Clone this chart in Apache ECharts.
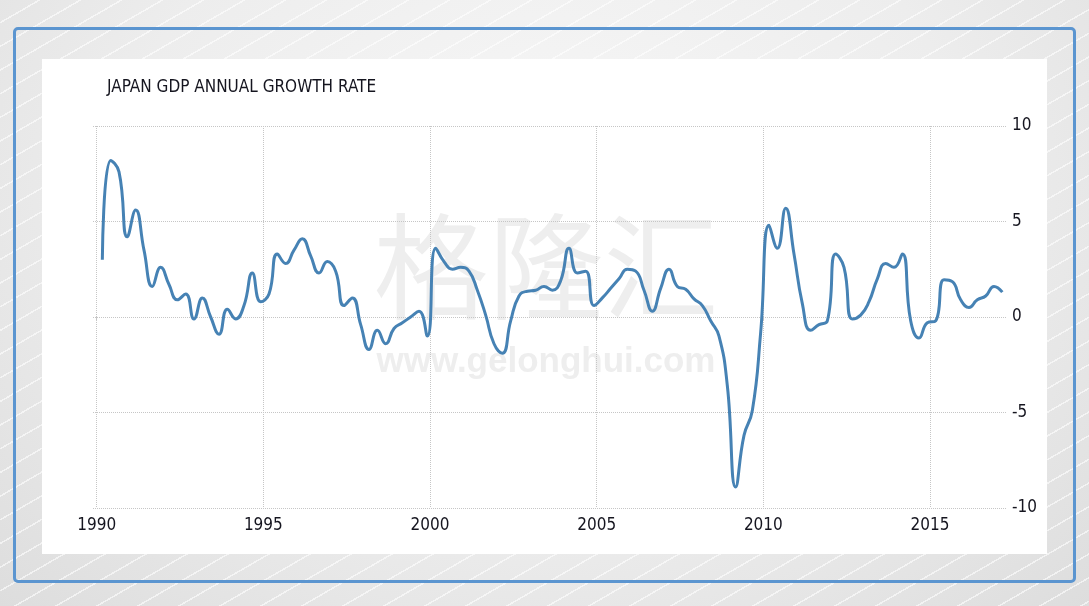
<!DOCTYPE html>
<html><head><meta charset="utf-8">
<script src="https://cdn.jsdelivr.net/npm/echarts@6/dist/echarts.min.js"></script>
<style>
html,body{margin:0;padding:0;width:1089px;height:606px;overflow:hidden;}
body{background:
 repeating-linear-gradient(150deg, rgba(255,255,255,0) 0px, rgba(255,255,255,0) 19px, rgba(255,255,255,0.6) 19px, rgba(255,255,255,0.6) 20.5px),
 radial-gradient(ellipse at 50% 30%, #f7f7f7 0%, #ededed 55%, #dddddd 100%);}
#frame{position:absolute;left:13px;top:27px;width:1057px;height:550px;border:3px solid #5b95d0;border-radius:5px;}
#panel{position:absolute;left:42px;top:59px;width:1005px;height:495px;background:#fff;}
#chart{position:absolute;left:0;top:0;width:1089px;height:606px;}
</style>
</head><body>
<div id="frame"></div>
<div id="panel"></div>
<div id="chart"></div>
<script>
const titleText = 'JAPAN GDP ANNUAL GROWTH RATE';
const startYear = 1990;          // first quarter: 1990 Q1
const yearTicks = [1990, 1995, 2000, 2005, 2010, 2015];
const valueTicks = [-10, -5, 0, 5, 10];
// Japan GDP annual growth rate (%), quarterly, 1990 Q1 .. 2017 Q1
const gdpGrowth = [
  3.0, 8.2, 7.6, 4.2,      // 1990
  5.6, 3.5, 1.6, 2.6,      // 1991
  1.7, 0.9, 1.2, -0.1,     // 1992
  1.0, 0.0, -0.9, 0.4,     // 1993
  -0.1, 0.6, 2.3, 0.8,     // 1994
  1.2, 3.3, 2.8, 3.5,      // 1995
  4.1, 3.2, 2.3, 2.9,      // 1996
  2.4, 0.6, 1.0, -0.4,     // 1997
  -1.7, -0.7, -1.4, -0.6,  // 1998
  -0.3, 0.0, 0.3, -1.0,    // 1999
  3.6, 2.9, 2.5, 2.6,      // 2000
  2.4, 1.4, 0.1, -1.4,     // 2001
  -1.9, -0.2, 1.1, 1.35,   // 2002
  1.4, 1.6, 1.4, 1.9,      // 2003
  3.6, 2.3, 2.4, 0.6,      // 2004
  1.0, 1.5, 2.0, 2.5,      // 2005
  2.4, 1.4, 0.3, 1.5,      // 2006
  2.5, 1.6, 1.45, 0.95,    // 2007
  0.6, -0.2, -1.0, -3.6,   // 2008
  -8.9, -6.2, -4.9, -0.8,  // 2009
  4.8, 3.6, 5.7, 3.3,      // 2010
  0.7, -0.7, -0.4, -0.2,   // 2011
  3.3, 2.6, -0.1, 0.1,     // 2012
  0.8, 2.0, 2.8, 2.6,      // 2013
  3.3, -0.2, -1.1, -0.3,   // 2014
  -0.2, 1.95, 1.85, 0.9,   // 2015
  0.5, 0.9, 1.1, 1.6,      // 2016
  1.3                      // 2017
];

const FONT = "'Liberation Sans Narrow', 'DejaVu Sans Condensed', sans-serif";
const TXT = '#15151f';
const GRIDC = '#c6c6c6';

// quarter i -> decimal year (plotted near the middle of each quarter)
const seriesData = gdpGrowth.map((v, i) => [startYear + Math.floor(i / 4) + (i % 4) * 0.25 + 0.17, v]);

const chart = echarts.init(document.getElementById('chart'), null, {renderer: 'canvas'});
chart.setOption({
  animation: false,
  backgroundColor: 'transparent',
  title: {
    text: titleText, left: 107, top: 79, padding: 0,
    textStyle: {fontFamily: FONT, fontSize: 17, fontWeight: 'normal', color: TXT}
  },
  grid: {left: 93, right: 82, top: 126, bottom: 98},
  xAxis: {
    type: 'value', min: 1989.89, max: 2017.31,
    axisLine: {show: false},
    axisTick: {show: true, length: 4, customValues: yearTicks, lineStyle: {type: 'dotted', color: GRIDC}},
    axisLabel: {customValues: yearTicks, margin: 9, fontFamily: FONT, fontSize: 17, color: TXT,
      formatter: v => String(Math.round(v))},
    splitLine: {show: true, lineStyle: {type: 'dotted', color: GRIDC, width: 1}}
  },
  yAxis: {
    type: 'value', position: 'right', min: valueTicks[0], max: valueTicks[valueTicks.length - 1], interval: 5,
    axisLine: {show: false}, axisTick: {show: false},
    axisLabel: {margin: 5, fontFamily: FONT, fontSize: 17, color: TXT},
    splitLine: {show: true, lineStyle: {type: 'dotted', color: GRIDC, width: 1}}
  },
  graphic: [
    {type: 'text', x: 546, y: 266, z: -10, silent: true,
      style: {text: '格隆汇', font: "115px 'Noto Sans CJK SC'", fill: '#eeeeee', align: 'center', verticalAlign: 'middle'}},
    {type: 'text', x: 546, y: 362, z: -10, silent: true,
      style: {text: 'www.gelonghui.com', font: "bold 35px 'Liberation Sans', sans-serif", fill: '#eeeeee', align: 'center', verticalAlign: 'middle'}}
  ],
  series: [{
    type: 'line', data: seriesData, smooth: 0.5, showSymbol: false,
    lineStyle: {color: '#4682b4', width: 3}
  }]
});
</script>
</body></html>
